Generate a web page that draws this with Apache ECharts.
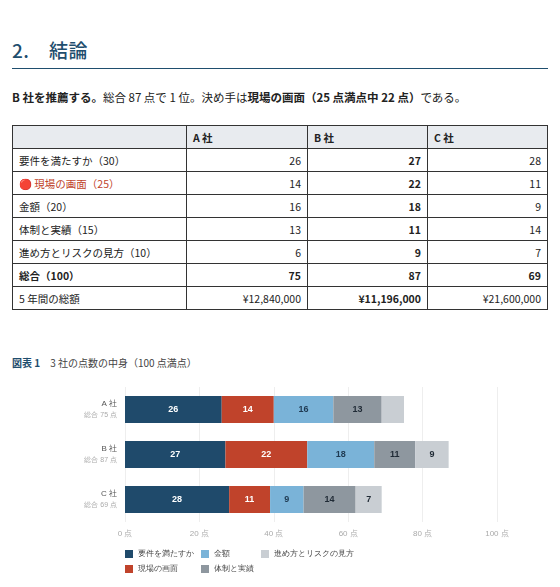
<!DOCTYPE html>
<html><head><meta charset="utf-8">
<script src="https://cdn.jsdelivr.net/npm/echarts@6/dist/echarts.min.js"></script>
<style>
body{margin:0;width:560px;height:587px;overflow:hidden;font-family:"Noto Sans CJK JP","Noto Sans",sans-serif;color:#222;background:#fff;position:relative}
h2{position:absolute;left:12px;top:36px;margin:0;font-size:19px;font-weight:500;color:#1f4e6e;letter-spacing:0.5px}
.rule{position:absolute;left:12px;width:536px;top:68px;border-top:1px solid #1f4e6e}
p{position:absolute;left:12px;top:89px;margin:0;font-size:11.5px}
table{position:absolute;left:12px;top:125px;width:536px;border-collapse:collapse;font-size:10.5px}
td,th{border:1px solid #333;height:23px;padding:0 6px;box-sizing:border-box}
th{background:#e8ebef;text-align:left;font-weight:600}
td.n{text-align:right}
.b{font-weight:700}
.red{color:#c0432b}
.cap{position:absolute;left:12px;top:355px;font-size:10px;color:#444}
.cap b{color:#1f4e6e}
#c{position:absolute;left:0;top:375px;width:560px;height:212px}
</style></head><body>
<h2>2.　結論</h2><div class="rule"></div>
<p><b>B 社を推薦する。</b>総合 87 点で 1 位。決め手は<b>現場の画面（25 点満点中 22 点）</b>である。</p>
<table>
<tr><th style="width:174px"></th><th style="width:121px">A 社</th><th style="width:120px">B 社</th><th>C 社</th></tr>
<tr><td>要件を満たすか（30）</td><td class="n">26</td><td class="n b">27</td><td class="n">28</td></tr>
<tr><td class="red">🔴 現場の画面（25）</td><td class="n">14</td><td class="n b">22</td><td class="n">11</td></tr>
<tr><td>金額（20）</td><td class="n">16</td><td class="n b">18</td><td class="n">9</td></tr>
<tr><td>体制と実績（15）</td><td class="n">13</td><td class="n b">11</td><td class="n">14</td></tr>
<tr><td>進め方とリスクの見方（10）</td><td class="n">6</td><td class="n b">9</td><td class="n">7</td></tr>
<tr class="b"><td>総合（100）</td><td class="n">75</td><td class="n">87</td><td class="n">69</td></tr>
<tr><td>5 年間の総額</td><td class="n">¥12,840,000</td><td class="n b">¥11,196,000</td><td class="n">¥21,600,000</td></tr>
</table>
<div class="cap"><b>図表 1</b>　3 社の点数の中身（100 点満点）</div>
<div id="c"></div>
<script>
const companies=["A 社","B 社","C 社"];
const totals=[75,87,69];
const seriesNames=["要件を満たすか","現場の画面","金額","体制と実績","進め方とリスクの見方"];
const s1=[26,27,28];
const s2=[14,22,11];
const s3=[16,18,9];
const s4=[13,11,14];
const s5=[6,9,7];
const xTicks=[0,20,40,60,80,100];
const colors=["#1f4a6b","#c0432b","#7ab3d8","#8e979f","#c9ced3"];
const labelColors=["#fff","#fff","#1f3a52","#1f2a35","#1f2a35"];
const vals=[s1,s2,s3,s4,s5];
const chart=echarts.init(document.getElementById('c'));
chart.setOption({
 animation:false,
 grid:{left:125,right:63,top:12,height:135},
 legend:{orient:'vertical',left:120,top:170,itemWidth:8,itemHeight:8,itemGap:7,icon:'rect',textStyle:{fontSize:8,color:'#444'},data:seriesNames},
 xAxis:{type:'value',min:0,max:100,interval:20,axisLabel:{formatter:v=>v+' 点',color:'#aaa',fontSize:8},splitLine:{lineStyle:{color:'#eee'}}},
 yAxis:{type:'category',inverse:true,data:companies,axisLine:{show:false},axisTick:{show:false},
   axisLabel:{margin:8,formatter:(v,i)=>'{a|'+v+'}\n{b|総合 '+totals[i]+' 点}',rich:{a:{fontSize:8,color:'#555',align:'right',lineHeight:11},b:{fontSize:7,color:'#aaa',align:'right',lineHeight:11}}}},
 series:vals.map((d,k)=>({name:seriesNames[k],type:'bar',stack:'t',barWidth:27,
   itemStyle:{color:colors[k]},
   label:{show:true,color:labelColors[k],fontSize:9,fontWeight:600},
   data:d.map((v,i)=>(k===4&&i===0)?{value:v,label:{show:false}}:v)}))
});
</script>
</body></html>
